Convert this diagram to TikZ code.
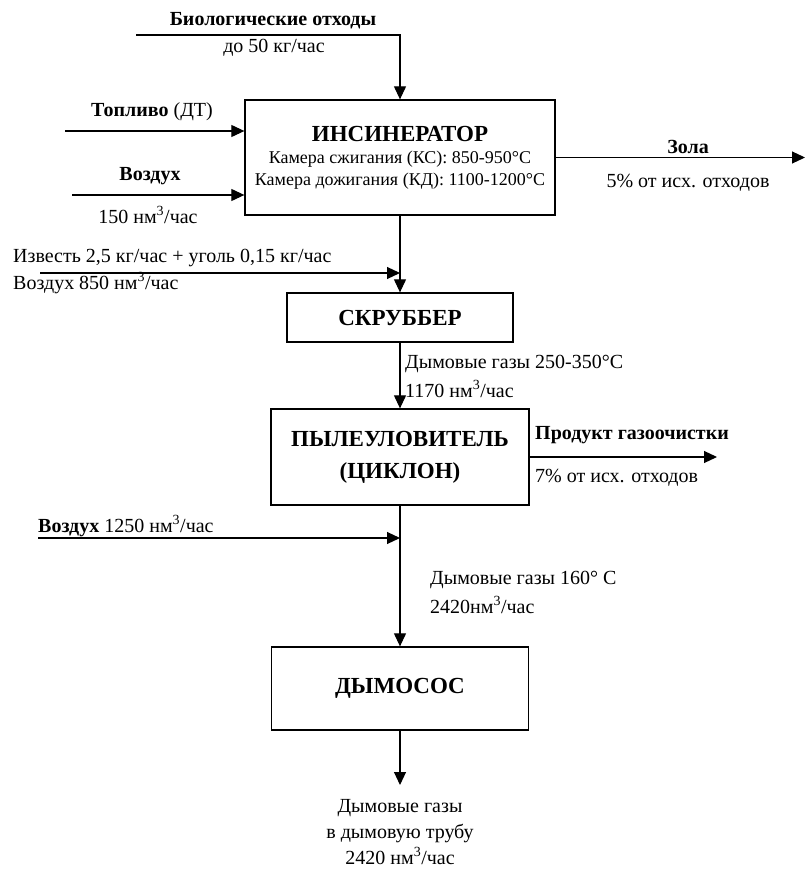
\documentclass[tikz,border=0pt]{standalone}
\usepackage{fontspec}
\setmainfont{Liberation Serif}
\usetikzlibrary{positioning, arrows.meta}

\begin{document}
\begin{tikzpicture}[
    x=1pt, y=-1pt,
    unit/.style={draw, line width=1.3pt, rectangle, inner sep=0pt, font=\fontsize{23}{27}\selectfont\bfseries},
    txt/.style={inner sep=0pt, font=\fontsize{20}{26}\selectfont},
    btxt/.style={inner sep=0pt, font=\fontsize{20}{26}\selectfont\bfseries},
    small/.style={inner sep=0pt, font=\fontsize{18}{21}\selectfont},
    flow/.style={line width=1.1pt, -{Triangle[length=13pt, width=12pt]}},
]
\useasboundingbox (0,0) rectangle (806,877);

% units
\node[unit, minimum width=310pt, minimum height=115pt] (inc) at (400, 157.5) {};
\node[unit, minimum width=226pt, minimum height=49pt] (scr) at (400, 317.5) {СКРУББЕР};
\node[unit, minimum width=258pt, minimum height=96pt, align=center] (cyc) at (400, 457) {ПЫЛЕУЛОВИТЕЛЬ\\[5pt](ЦИКЛОН)};
\node[unit, minimum width=257pt, minimum height=83pt] (fan) at (400, 688.5) {ДЫМОСОС};

% incinerator text
\node[inner sep=0pt, font=\fontsize{23}{27}\selectfont\bfseries] (incT) at (400, 134) {ИНСИНЕРАТОР};
\node[small] (incA) at (400, 159) {Камера сжигания (КС): 850-950°C};
\node[small] (incB) at (400, 181) {Камера дожигания (КД): 1100-1200°C};

% free ends
\coordinate (bioS) at (136, 35);
\coordinate (fuelS) at (65, 131);
\coordinate (airS) at (72, 195);
\coordinate (ashE) at (805, 157.5);
\coordinate (limeS) at (40, 273);
\coordinate (prodE) at (717, 457);
\coordinate (air2S) at (38, 538);
\coordinate (outE) at (400, 785);

% flows
\draw[flow] (bioS) -| (inc.north);
\draw[flow] (fuelS) -- (fuelS -| inc.west);
\draw[flow] (airS) -- (airS -| inc.west);
\draw[flow] (inc.east) -- (ashE);
\draw[flow] (inc.south) -- (scr.north);
\draw[flow] (limeS) -- (limeS -| inc.south);
\draw[flow] (scr.south) -- (cyc.north);
\draw[flow] (cyc.east) -- (prodE);
\draw[flow] (air2S) -- (air2S -| cyc.south);
\draw[flow] (cyc.south) -- (fan.north);
\draw[flow] (fan.south) -- (outE);

% labels
\node[btxt] (bioL) at (273, 21) {Биологические отходы};
\node[txt] (bioQ) at (274, 48) {до 50 кг/час};
\node[txt] (fuelL) at (152, 112) {\textbf{Топливо} (ДТ)};
\node[btxt] (airL) at (150, 176) {Воздух};
\node[txt] (airQ) at (148, 215) {150 нм\textsuperscript{3}/час};
\node[btxt] (ashL) at (688, 147) {Зола};
\node[txt] (ashQ) at (688, 183) {5\% от исх. отходов};
\node[txt, anchor=west] (limeL) at (13, 258) {Известь 2,5 кг/час + уголь 0,15 кг/час};
\node[txt, anchor=west] (limeQ) at (13, 283) {Воздух 850 нм\textsuperscript{3}/час};
\node[txt, anchor=west] (gas1L) at (405, 364) {Дымовые газы 250-350°C};
\node[txt, anchor=west] (gas1Q) at (405, 389) {1170 нм\textsuperscript{3}/час};
\node[btxt, anchor=west] (prodL) at (535, 435) {Продукт газоочистки};
\node[txt, anchor=west] (prodQ) at (535, 478) {7\% от исх. отходов};
\node[txt, anchor=west] (air2L) at (38, 526) {\textbf{Воздух} 1250 нм\textsuperscript{3}/час};
\node[txt, anchor=west] (gas2L) at (430, 580) {Дымовые газы 160° C};
\node[txt, anchor=west] (gas2Q) at (430, 605) {2420нм\textsuperscript{3}/час};
\node[txt, align=center] (outL) at (400, 832) {Дымовые газы\\в дымовую трубу\\2420 нм\textsuperscript{3}/час};
\end{tikzpicture}
\end{document}
